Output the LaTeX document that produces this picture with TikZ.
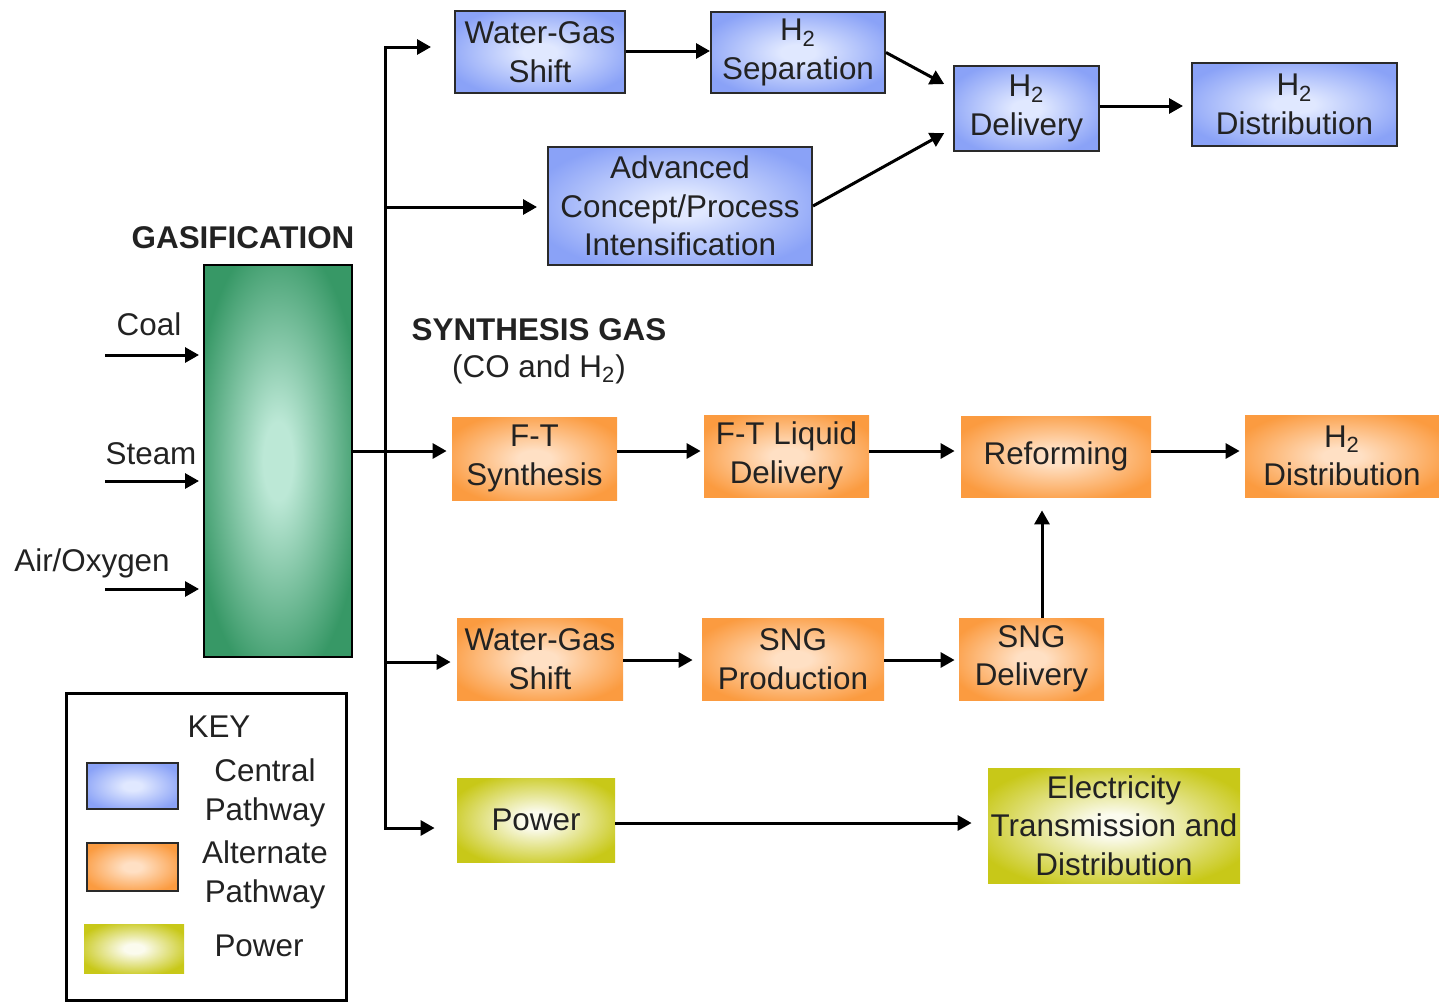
\documentclass[tikz,border=0pt]{standalone}
\usepackage{fontspec}
\setmainfont{Liberation Sans}
\usetikzlibrary{arrows.meta}
\definecolor{txt}{HTML}{222222}
\definecolor{edge}{HTML}{2A2A2A}
\definecolor{blueIn}{HTML}{E0E8FF}
\definecolor{blueOut}{HTML}{8AA2F7}
\definecolor{orIn}{HTML}{FFE0C4}
\definecolor{orOut}{HTML}{FB9B40}
\definecolor{yeIn}{HTML}{FBFBEE}
\definecolor{yeOut}{HTML}{C8C818}
\definecolor{grIn}{HTML}{BCE8D6}
\definecolor{grOut}{HTML}{379866}
\colorlet{gin}{white}
\colorlet{gout}{black}
\pgfdeclareradialshading[gin,gout]{glow}{\pgfpoint{0bp}{0bp}}{color(0bp)=(gin); color(5bp)=(gin); color(29bp)=(gout); color(100bp)=(gout)}
\tikzset{
  glowcols/.code 2 args={\colorlet{gin}{#1}\colorlet{gout}{#2}},
  lbl/.style={font=\fontsize{15.7}{19.2}\selectfont, text=txt, align=center, inner sep=0pt},
  bx/.style={lbl, rectangle, shading=glow},
  bluebox/.style={bx, draw=edge, line width=1pt, glowcols={blueIn}{blueOut}},
  orbox/.style={bx, glowcols={orIn}{orOut}},
  orkey/.style={bx, draw=edge, line width=1pt, glowcols={orIn}{orOut}},
  yebox/.style={bx, glowcols={yeIn}{yeOut}},
  grbox/.style={bx, draw=black, line width=1pt, glowcols={grIn}{grOut}},
  ln/.style={line width=1.5pt, black, line join=miter},
  arr/.style={ln, -{Triangle[length=7pt,width=7.5pt]}},
  hd/.style={lbl, font=\fontsize{15.7}{19.2}\selectfont\bfseries}
}
\begin{document}
\begin{tikzpicture}[x=0.5pt,y=-0.5pt]
\useasboundingbox (0,0) rectangle (1439,1002);

% gasifier
\node[grbox, minimum width=74pt, minimum height=196pt] (gas) at (278,461) {};
\node[hd] (gastitle) at (243,238) {GASIFICATION};
\node[lbl] (coal) at (149,324) {Coal};
\node[lbl] (steam) at (151,454) {Steam};
\node[lbl] (air) at (92,563) {Air/Oxygen};
\coordinate (coalIn) at (105,355);
\coordinate (steamIn) at (105,481);
\coordinate (airIn) at (105,589);
\draw[arr, shorten >=2pt] (coalIn) -- (coalIn -| gas.west);
\draw[arr, shorten >=2pt] (steamIn) -- (steamIn -| gas.west);
\draw[arr, shorten >=2pt] (airIn) -- (airIn -| gas.west);

% synthesis gas label
\node[hd] (syn) at (539,330) {SYNTHESIS GAS};
\node[lbl] (co) at (539,369) {(CO and H\textsubscript{2})};

% central pathway (blue)
\node[bluebox, minimum width=85pt, minimum height=41pt] (wgs1) at (540,52) {Water-Gas\\Shift};
\node[bluebox, minimum width=87pt, minimum height=40.5pt] (sep) at (798,52.5) {H\textsubscript{2}\\Separation};
\node[bluebox, minimum width=132pt, minimum height=59pt] (adv) at (680,206) {Advanced\\Concept/Process\\Intensification};
\node[bluebox, minimum width=72.5pt, minimum height=42.5pt] (del) at (1026.5,108.5) {H\textsubscript{2}\\Delivery};
\node[bluebox, minimum width=102.5pt, minimum height=41.5pt] (dist) at (1294.5,104.5) {H\textsubscript{2}\\Distribution};

% alternate pathway (orange)
\node[orbox, minimum width=82.5pt, minimum height=41.5pt] (fts) at (534.5,458.5) {F-T\\Synthesis};
\node[orbox, minimum width=82.5pt, minimum height=41pt] (ftl) at (786.5,456) {F-T Liquid\\Delivery};
\node[orbox, minimum width=95pt, minimum height=40.5pt] (ref) at (1056,456.5) {Reforming};
\node[orbox, minimum width=97pt, minimum height=41pt] (hd2) at (1342,456) {H\textsubscript{2}\\Distribution};
\node[orbox, minimum width=83pt, minimum height=41pt] (wgs2) at (540,659) {Water-Gas\\Shift};
\node[orbox, minimum width=91pt, minimum height=41pt] (sngp) at (793,659) {SNG\\Production};
\node[orbox, minimum width=72.5pt, minimum height=41pt] (sngd) at (1031.5,659) {SNG\\Delivery};

% power
\node[yebox, minimum width=79pt, minimum height=42pt] (pow) at (536,820) {Power};
\node[yebox, minimum width=126pt, minimum height=57.5pt] (elec) at (1114,825.5) {Electricity\\Transmission and\\Distribution};

% trunk
\coordinate (tA) at (385,47);
\coordinate (tB) at (385,207);
\coordinate (tC) at (385,451);
\coordinate (tD) at (385,662);
\coordinate (tE) at (385,828);
\draw[arr, shorten >=11.5pt] (tD) -- (tA) -- (wgs1.west |- tA);
\draw[arr, shorten >=11pt] (tC) -- (tE) -- (pow.west |- tE);
\draw[arr, shorten >=5pt] (tB) -- (adv.west |- tB);
\draw[ln] (gas.east |- tC) -- (tC);
\draw[arr, shorten >=2.5pt] (tC) -- (fts.west |- tC);
\draw[arr, shorten >=3pt] (tD) -- (wgs2.west |- tD);

% blue connectors
\coordinate (rowTop) at (0,51);
\coordinate (rowDel) at (0,106);
\draw[arr] (wgs1.east |- rowTop) -- (sep.west |- rowTop);
\draw[arr, shorten >=5pt] (sep.east) -- (del.165);
\draw[arr, shorten >=5pt] (adv.east) -- (del.195);
\draw[arr, shorten >=4pt] (del.east |- rowDel) -- (dist.west |- rowDel);

% orange connectors
\coordinate (rowFT) at (0,451);
\coordinate (rowSNG) at (0,660);
\coordinate (colS) at (1042,0);
\draw[arr, shorten >=1.5pt] (fts.east |- rowFT) -- (ftl.west |- rowFT);
\draw[arr, shorten >=3pt] (ftl.east |- rowFT) -- (ref.west |- rowFT);
\draw[arr, shorten >=2.5pt] (ref.east |- rowFT) -- (hd2.west |- rowFT);
\draw[arr, shorten >=4.5pt] (wgs2.east |- rowSNG) -- (sngp.west |- rowSNG);
\draw[arr, shorten >=2pt] (sngp.east |- rowSNG) -- (sngd.west |- rowSNG);
\draw[arr, shorten >=6.5pt] (sngd.north -| colS) -- (ref.south -| colS);

% power connector
\coordinate (rowPow) at (0,823);
\draw[arr, shorten >=8pt] (pow.east |- rowPow) -- (elec.west |- rowPow);

% key
\node[draw=black, line width=1.5pt, minimum width=140pt, minimum height=153.5pt, inner sep=0pt] (key) at (206,846.5) {};
\node[lbl] (keyt) at (219,727) {KEY};
\node[bluebox, minimum width=45.5pt, minimum height=23pt] (kb) at (132.5,786) {};
\node[orkey, minimum width=45.5pt, minimum height=24pt] (ko) at (132.5,867) {};
\node[yebox, minimum width=50pt, minimum height=24.5pt] (ky) at (134,948.5) {};
\node[lbl] (kbt) at (265,793) {Central\\Pathway};
\node[lbl] (kot) at (265,875) {Alternate\\Pathway};
\node[lbl] (kyt) at (259,946) {Power};
\end{tikzpicture}
\end{document}
